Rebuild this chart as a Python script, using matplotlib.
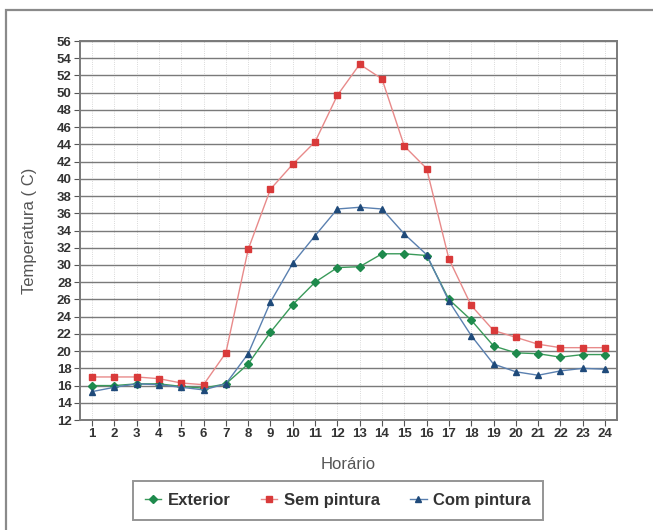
import matplotlib.pyplot as plt
from matplotlib.patches import Rectangle

# hours of the day
hours = list(range(1, 25))

# temperatures
exterior = [16.0, 16.0, 16.2, 16.2, 15.9, 15.7, 16.2, 18.5, 22.2, 25.4, 28.0, 29.7,
            29.8, 31.3, 31.3, 31.1, 26.0, 23.6, 20.6, 19.8, 19.7, 19.3, 19.6, 19.6]
sem_pintura = [17.0, 17.0, 17.0, 16.8, 16.3, 16.1, 19.8, 31.8, 38.8, 41.7, 44.3, 49.7,
               53.3, 51.6, 43.8, 41.2, 30.7, 25.3, 22.4, 21.6, 20.8, 20.4, 20.4, 20.4]
com_pintura = [15.3, 15.8, 16.2, 16.1, 15.8, 15.5, 16.2, 19.7, 25.7, 30.2, 33.4, 36.5,
               36.7, 36.5, 33.6, 31.2, 25.8, 21.8, 18.5, 17.6, 17.2, 17.7, 18.0, 17.9]

y_ticks = list(range(12, 57, 2))

plt.rcParams['font.family'] = ['Liberation Sans', 'DejaVu Sans']

fig = plt.figure(figsize=(6.53, 5.3), dpi=100)
ax = fig.add_axes([0.1225, 0.2075, 0.8225, 0.7151])

# outer frame of the figure (cut at right and bottom)
fig.patches.append(Rectangle((6 / 653, -0.05), 1.0, 1 - 10 / 530 + 0.05,
                             transform=fig.transFigure, fill=False,
                             edgecolor='#8a8a8a', linewidth=1.6))

ax.plot(hours, exterior, color='#3a9a5a', linewidth=1.0, marker='D', markersize=4.5,
        markerfacecolor='#1e8a4c', markeredgecolor='#1e8a4c', label='Exterior')
ax.plot(hours, sem_pintura, color='#e88a8a', linewidth=1.0, marker='s', markersize=5,
        markerfacecolor='#d93a3a', markeredgecolor='#d93a3a', label='Sem pintura')
ax.plot(hours, com_pintura, color='#5a80b0', linewidth=1.0, marker='^', markersize=5,
        markerfacecolor='#1f4a7a', markeredgecolor='#1f4a7a', label='Com pintura')

ax.set_xlim(0.46, 24.54)
ax.set_ylim(12, 56)
ax.set_xticks(hours)
ax.set_yticks(y_ticks)
ax.tick_params(axis='both', direction='out', length=4, color='#555555',
               labelsize=9.5, labelcolor='#333333', pad=2)
for lab in ax.get_xticklabels() + ax.get_yticklabels():
    lab.set_fontweight('bold')

# grid: dark horizontal lines, faint dotted vertical ones
ax.grid(axis='y', color='#7a7a7a', linewidth=1.0)
ax.grid(axis='x', color='#cccccc', linewidth=0.6, linestyle=':')
ax.set_axisbelow(True)
for s in ax.spines.values():
    s.set_color('#7a7a7a')
    s.set_linewidth(1.4)

ax.set_xlabel('Horário', fontsize=12, color='#555555', labelpad=12)
ax.set_ylabel('Temperatura ( C)', fontsize=12, color='#555555', labelpad=14)

leg = ax.legend(loc='upper center', bbox_to_anchor=(0.48, -0.14), ncol=3,
                frameon=True, fancybox=False, edgecolor='#7a7a7a',
                handlelength=1.0, handletextpad=0.4, columnspacing=1.8,
                borderpad=0.7, prop={'weight': 'bold', 'size': 12})
leg.get_frame().set_linewidth(1.4)
for t in leg.get_texts():
    t.set_color('#333333')

fig.savefig('out.png', dpi=100)
